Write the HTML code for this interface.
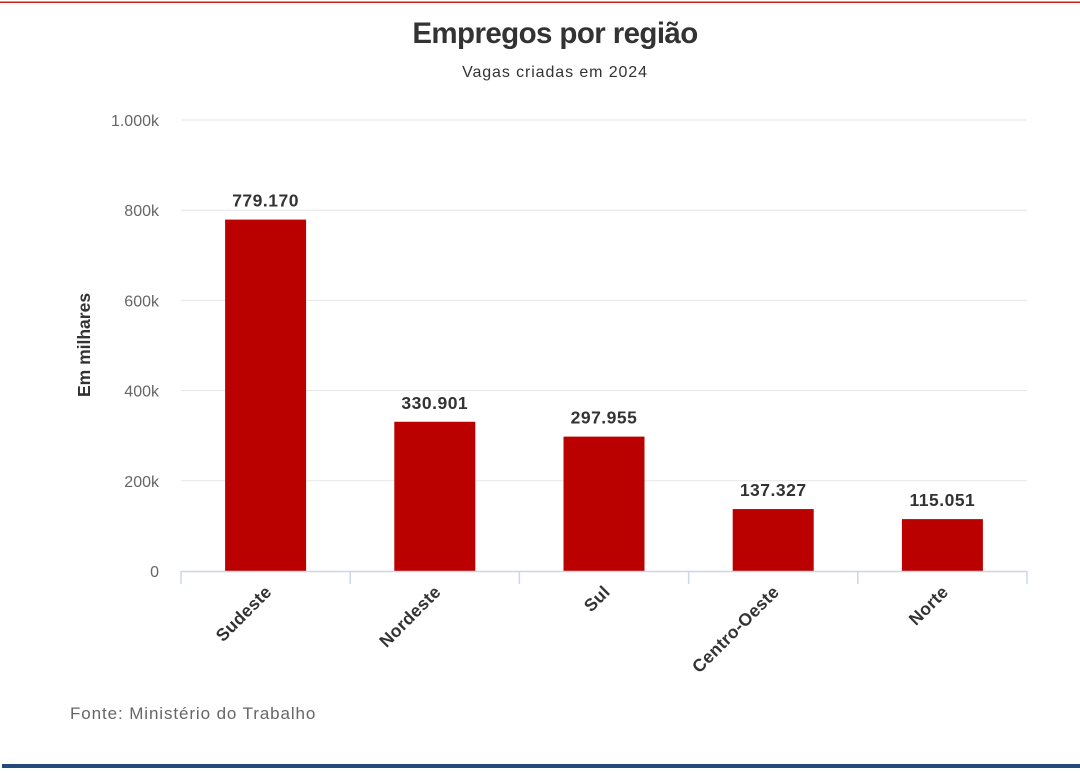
<!DOCTYPE html>
<html><head><meta charset="utf-8"><style>
body{margin:0;background:#fff;width:1080px;height:769px;overflow:hidden;font-family:"Liberation Sans",sans-serif}
</style></head><body>
<svg width="1080" height="769">
<rect x="0" y="1.5" width="1080" height="1.5" fill="#c8231d"/>
<rect x="2" y="764" width="1078" height="4" fill="#234a7a"/>
<text x="555" y="43" text-anchor="middle" font-size="29.5" font-weight="bold" fill="#333" letter-spacing="-0.6">Empregos por região</text>
<text x="555" y="77" text-anchor="middle" font-size="16" fill="#333" letter-spacing="0.9">Vagas criadas em 2024</text>
<text transform="translate(90,345) rotate(-90)" text-anchor="middle" font-size="17.5" font-weight="bold" fill="#333">Em milhares</text>
<text x="70" y="719" font-size="17" fill="#666" letter-spacing="0.9">Fonte: Ministério do Trabalho</text>
<g id="grid"></g><g id="bars"></g><g id="xaxis"></g>
</svg>
<script>
const categories=["Sudeste","Nordeste","Sul","Centro-Oeste","Norte"];
const values=[779170,330901,297955,137327,115051];
const valueLabels=["779.170","330.901","297.955","137.327","115.051"];
const ticks=[0,200000,400000,600000,800000,1000000];
const tickLabels=["0","200k","400k","600k","800k","1.000k"];
const NS="http://www.w3.org/2000/svg";
const x0=181,x1=1027,y0=571,y1=120,maxV=1000000;
const yS=v=>y0-(v/maxV)*(y0-y1);
const bw=(x1-x0)/categories.length;
const xS=i=>x0+bw*i+bw/2;
function mk(t,a,p){const e=document.createElementNS(NS,t);for(const k in a)e.setAttribute(k,a[k]);p.appendChild(e);return e;}
const g=document.getElementById('grid'),b=document.getElementById('bars'),xa=document.getElementById('xaxis');
ticks.forEach((t,i)=>{
 if(t>0){const l=mk('line',{x1:x0,x2:x1,y1:yS(t),y2:yS(t),stroke:'#e6e6e6','stroke-width':1},g);
 
 }
 const tx=mk('text',{x:159,y:yS(t)+6,'text-anchor':'end','font-size':16,fill:'#666'},g);
 tx.textContent=tickLabels[i];
 
 
});
const ax=mk('line',{x1:x0,x2:x1,y1:y0+0.5,y2:y0+0.5,stroke:'#ccd6eb','stroke-width':1.5},xa);


for(let i=0;i<=categories.length;i++){
 const tk=mk('line',{x1:x0+bw*i,x2:x0+bw*i,y1:y0,y2:y0+13,stroke:'#ccd6eb','stroke-width':1.5},xa);
 
 
}
categories.forEach((c,i)=>{
 const cx=xS(i),w=81;
 const r=mk('rect',{x:cx-w/2,y:yS(values[i]),width:w,height:y0-yS(values[i]),fill:'#bb0000'},b);
 
 
 const vl=mk('text',{x:cx,y:yS(values[i])-13,'text-anchor':'middle','font-size':17.5,'font-weight':'bold',fill:'#333','letter-spacing':0.5},b);
 vl.textContent=valueLabels[i];
 
 
 const xl=mk('text',{transform:`translate(${cx+7},${y0+22}) rotate(-45)`,'text-anchor':'end','font-size':17.5,'font-weight':'bold',fill:'#333','letter-spacing':0.3},xa);
 xl.textContent=c;
 
 
});
</script>
</body></html>
